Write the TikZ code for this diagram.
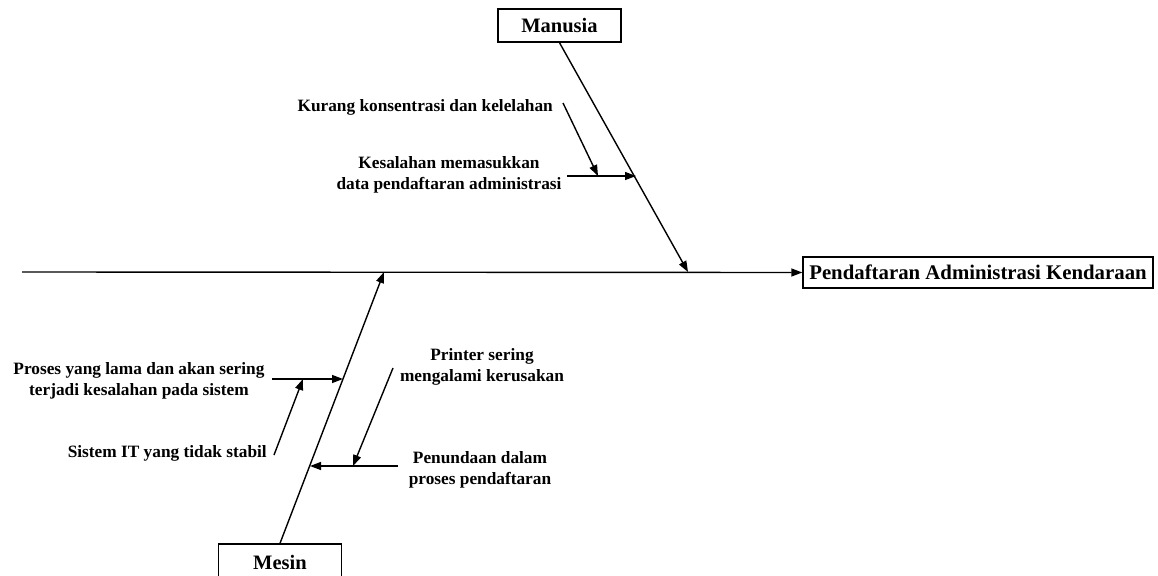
\documentclass[tikz,border=0pt]{standalone}
\usepackage{fontspec}
\setmainfont{Liberation Serif}
\usetikzlibrary{arrows.meta}
\begin{document}
\begin{tikzpicture}[x=1pt,y=-1pt,
  bone/.style={line width=1.4pt},
  arr/.style={bone,-{Triangle[length=11pt,width=8pt]}},
  catbox/.style={draw,line width=1.4pt,minimum width=123pt,minimum height=33pt,
    inner sep=0pt,font=\fontsize{20.5}{23}\selectfont\bfseries},
  effectbox/.style={draw,line width=1.4pt,minimum width=350pt,minimum height=31pt,
    inner sep=0pt,font=\fontsize{20.8}{23}\selectfont\bfseries},
  lbl/.style={inner sep=0pt,align=center,font=\fontsize{17.3}{20.5}\selectfont\bfseries}]
\useasboundingbox (0,0) rectangle (1158,575);

% categories and effect
\node[catbox] (manusia) at (559.5,25.5) {Manusia};
\node[catbox,minimum height=36pt] (mesin) at (280,562) {Mesin};
\node[effectbox] (effect) at (978,272.5) {Pendaftaran Administrasi Kendaraan};

% spine
\coordinate (tail) at (22,272);
\coordinate (mTip) at (688,272);
\coordinate (eTip) at (384,272);
\draw[arr] (tail) -- (effect.west);

% main bones
\draw[arr] (manusia.south) -- (mTip);
\draw[arr] (mesin.north) -- (eTip);

% Manusia causes
\coordinate (k1s) at (567,176);
\coordinate (k1e) at (636,176);
\coordinate (k2s) at (563,103);
\coordinate (k2e) at (598,176);
\draw[arr] (k1s) -- (k1e);
\draw[arr] (k2s) -- (k2e);
\node[lbl,anchor=east] (kurang) at (553,107) {Kurang konsentrasi dan kelelahan};
\node[lbl] (kesalahan) at (449,175) {Kesalahan memasukkan\\data pendaftaran administrasi};

% Mesin causes
\coordinate (p1s) at (272,379);
\coordinate (p1e) at (343,379);
\coordinate (p2s) at (274,455);
\coordinate (p2e) at (303,379);
\draw[arr] (p1s) -- (p1e);
\draw[arr] (p2s) -- (p2e);
\node[lbl] (proses) at (139,381) {Proses yang lama dan akan sering\\terjadi kesalahan pada sistem};
\node[lbl,anchor=east] (sistem) at (267,453) {Sistem IT yang tidak stabil};

\coordinate (q1s) at (398,466);
\coordinate (q1e) at (310,466);
\coordinate (q2s) at (393,368);
\coordinate (q2e) at (353,466);
\draw[arr] (q1s) -- (q1e);
\draw[arr] (q2s) -- (q2e);
\node[lbl] (printer) at (482,367) {Printer sering\\mengalami kerusakan};
\node[lbl] (penundaan) at (480,470) {Penundaan dalam\\proses pendaftaran};
\end{tikzpicture}
\end{document}
